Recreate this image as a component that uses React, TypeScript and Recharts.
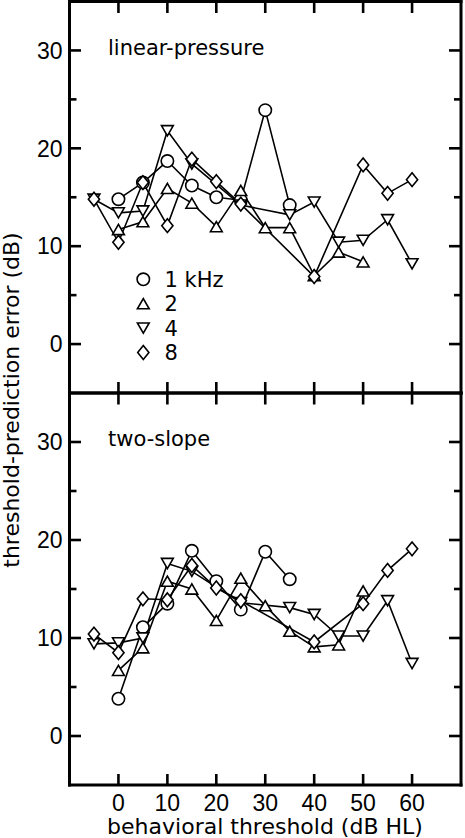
import React from 'react';
import { LineChart, Line, XAxis, YAxis, Legend } from 'recharts';

// ---------- axes ----------
const X_TICKS = [0, 10, 20, 30, 40, 50, 60];
const Y_TICKS = [0, 5, 10, 15, 20, 25, 30];
const X_DOMAIN: [number, number] = [-10, 70];
const Y_DOMAIN: [number, number] = [-5, 35];

// ---------- series names / symbols ----------
const FREQ_NAMES = ['1 kHz', '2', '4', '8'];
const SHAPES = ['circle', 'up', 'down', 'diamond'];

// ---------- linear-pressure panel ----------
const lp1kX = [0, 5, 10, 15, 20, 25, 30, 35];
const lp1kY = [14.8, 16.5, 18.7, 16.2, 15.0, 14.7, 23.9, 14.2];
const lp2kX = [0, 5, 10, 15, 20, 25, 30, 35, 40, 45, 50];
const lp2kY = [11.7, 12.5, 15.9, 14.4, 12.0, 15.7, 11.9, 11.9, 7.0, 9.4, 8.4];
const lp4kX = [-5, 0, 5, 10, 15, 25, 35, 40, 45, 50, 55, 60];
const lp4kY = [14.8, 13.4, 13.6, 21.8, 18.4, 14.2, 13.2, 14.5, 10.4, 10.6, 12.7, 8.2];
const lp8kX = [-5, 0, 5, 10, 15, 20, 25, 40, 50, 55, 60];
const lp8kY = [14.8, 10.4, 16.5, 12.1, 18.9, 16.6, 14.3, 6.9, 18.3, 15.4, 16.8];

// ---------- two-slope panel ----------
const ts1kX = [0, 5, 10, 15, 20, 25, 30, 35];
const ts1kY = [3.8, 11.1, 13.5, 18.9, 15.8, 12.9, 18.8, 16.0];
const ts2kX = [0, 5, 10, 15, 20, 25, 30, 35, 40, 45, 50];
const ts2kY = [6.7, 9.0, 15.8, 15.0, 11.8, 16.1, 13.3, 10.7, 9.1, 9.3, 14.8];
const ts4kX = [-5, 0, 5, 10, 15, 25, 35, 40, 45, 50, 55, 60];
const ts4kY = [9.4, 9.5, 10.0, 17.6, 16.8, 13.6, 13.1, 12.4, 10.2, 10.2, 13.8, 7.4];
const ts8kX = [-5, 0, 5, 10, 15, 20, 25, 40, 50, 55, 60];
const ts8kY = [10.4, 8.5, 14.0, 13.9, 17.4, 15.1, 13.8, 9.6, 13.5, 16.9, 19.1];

const zip = (xs: number[], ys: number[]) => xs.map((x, i) => ({ x, y: ys[i] }));

const LP_SERIES = [zip(lp1kX, lp1kY), zip(lp2kX, lp2kY), zip(lp4kX, lp4kY), zip(lp8kX, lp8kY)];
const TS_SERIES = [zip(ts1kX, ts1kY), zip(ts2kX, ts2kY), zip(ts4kX, ts4kY), zip(ts8kX, ts8kY)];

const NUM_FONT = '"Liberation Sans", Arial, sans-serif';
const TXT_FONT = '"DejaVu Sans", sans-serif';
const AXIS_LINE = { stroke: '#000', strokeWidth: 3, strokeLinecap: 'square' as const };
const TICK_W = 2.6;

function Marker({ shape, cx, cy }: { shape: string; cx: number; cy: number }) {
  const common = { fill: '#fff', stroke: '#000', strokeWidth: 1.6 };
  if (cx == null || cy == null) return null;
  switch (shape) {
    case 'circle':
      return <circle cx={cx} cy={cy} r={6.2} {...common} />;
    case 'up':
      return <path d={`M${cx - 5.9},${cy + 5.1}L${cx + 5.9},${cy + 5.1}L${cx},${cy - 5.1}Z`} {...common} />;
    case 'down':
      return <path d={`M${cx - 5.9},${cy - 5.1}L${cx + 5.9},${cy - 5.1}L${cx},${cy + 5.1}Z`} {...common} />;
    default:
      return <path d={`M${cx},${cy - 6.9}L${cx + 5.6},${cy}L${cx},${cy + 6.9}L${cx - 5.6},${cy}Z`} {...common} />;
  }
}

const LeftTick = (p: any) => {
  const v = p.payload.value;
  const major = v % 10 === 0;
  return (
    <g>
      <line x1={p.x} x2={p.x + (major ? 11.5 : 7)} y1={p.y} y2={p.y} stroke="#000" strokeWidth={TICK_W} />
      {major && (
        <text x={p.x - 7} y={p.y + 8.2} textAnchor="end" fontFamily={NUM_FONT} fontSize={23} fill="#000">
          {v}
        </text>
      )}
    </g>
  );
};

const RightTick = (p: any) => {
  const major = p.payload.value % 10 === 0;
  return <line x1={p.x - (major ? 12 : 7)} x2={p.x} y1={p.y} y2={p.y} stroke="#000" strokeWidth={TICK_W} />;
};

const TopTick = (p: any) => (
  <line x1={p.x} x2={p.x} y1={p.y} y2={p.y + 11.5} stroke="#000" strokeWidth={TICK_W} />
);

const makeBottomTick = (showLabel: boolean) => (p: any) => (
  <g>
    <line x1={p.x} x2={p.x} y1={p.y - 11} y2={p.y} stroke="#000" strokeWidth={TICK_W} />
    {showLabel && (
      <text x={p.x} y={p.y + 26} textAnchor="middle" fontFamily={NUM_FONT} fontSize={23} fill="#000">
        {p.payload.value}
      </text>
    )}
  </g>
);

const LegendContent = () => (
  <svg width={130} height={100} style={{ display: 'block' }}>
    {FREQ_NAMES.map((n, i) => (
      <g key={n}>
        <Marker shape={SHAPES[i]} cx={23.3} cy={14.3 + i * 24.4} />
        <text x={44.5} y={14.3 + i * 24.4 + 7.7} fontFamily={TXT_FONT} fontSize={21} fill="#000" style={{ whiteSpace: 'pre' }}>
          {n}
        </text>
      </g>
    ))}
  </svg>
);

function Panel({
  series,
  prefix,
  height,
  margin,
  showXLabels,
  showLegend,
}: {
  series: { x: number; y: number }[][];
  prefix: string;
  height: number;
  margin: { top: number; right: number; bottom: number; left: number };
  showXLabels: boolean;
  showLegend: boolean;
}) {
  return (
    <LineChart width={465} height={height} margin={margin}>
      <XAxis
        xAxisId="b"
        dataKey="x"
        type="number"
        domain={X_DOMAIN}
        ticks={X_TICKS}
        interval={0}
        height={1}
        tickSize={0}
        tickMargin={0}
        tickLine={false}
        axisLine={AXIS_LINE}
        tick={makeBottomTick(showXLabels)}
        allowDataOverflow
      />
      <XAxis
        xAxisId="t"
        orientation="top"
        dataKey="x"
        type="number"
        domain={X_DOMAIN}
        ticks={X_TICKS}
        interval={0}
        height={1}
        tickSize={0}
        tickMargin={0}
        tickLine={false}
        axisLine={AXIS_LINE}
        tick={TopTick}
        allowDataOverflow
      />
      <YAxis
        yAxisId="l"
        type="number"
        domain={Y_DOMAIN}
        ticks={Y_TICKS}
        interval={0}
        width={69.5}
        tickSize={0}
        tickMargin={0}
        tickLine={false}
        axisLine={AXIS_LINE}
        tick={LeftTick}
        allowDataOverflow
      />
      <YAxis
        yAxisId="r"
        orientation="right"
        type="number"
        domain={Y_DOMAIN}
        ticks={Y_TICKS}
        interval={0}
        width={1}
        tickSize={0}
        tickMargin={0}
        tickLine={false}
        axisLine={AXIS_LINE}
        tick={RightTick}
        allowDataOverflow
      />
      {series.map((d, i) => (
        <Line
          key={`${prefix}-line-${i}`}
          xAxisId="b"
          yAxisId="l"
          data={d}
          dataKey="y"
          name={FREQ_NAMES[i]}
          stroke="#000"
          strokeWidth={1.6}
          dot={false}
          activeDot={false}
          isAnimationActive={false}
          legendType="none"
        />
      ))}
      {series.map((d, i) => (
        <Line
          key={`${prefix}-dots-${i}`}
          xAxisId="b"
          yAxisId="l"
          data={d}
          dataKey="y"
          name={FREQ_NAMES[i]}
          stroke="none"
          strokeWidth={0}
          dot={(p: any) => <Marker key={`${prefix}-${i}-${p.index}`} shape={SHAPES[i]} cx={p.cx} cy={p.cy} />}
          activeDot={false}
          isAnimationActive={false}
        />
      ))}
      {showLegend && (
        <Legend
          layout="vertical"
          align="center"
          verticalAlign="middle"
          wrapperStyle={{ left: 120, top: 265, width: 130, height: 100 }}
          content={LegendContent}
        />
      )}
    </LineChart>
  );
}

export default function App() {
  return (
    <div style={{ position: 'absolute', left: 0, top: 0, width: 465, height: 838, background: '#fff', overflow: 'hidden' }}>
      <div style={{ position: 'absolute', left: 0, top: 0 }}>
        <Panel
          series={LP_SERIES}
          prefix="lp"
          height={400}
          margin={{ top: 0.5, right: 3, bottom: 6, left: 0 }}
          showXLabels={false}
          showLegend={true}
        />
      </div>
      <div style={{ position: 'absolute', left: 0, top: 380 }}>
        <Panel
          series={TS_SERIES}
          prefix="ts"
          height={458}
          margin={{ top: 12, right: 3, bottom: 52, left: 0 }}
          showXLabels={true}
          showLegend={false}
        />
      </div>
      <svg width={465} height={838} style={{ position: 'absolute', left: 0, top: 0, pointerEvents: 'none' }}>
        <text x={108} y={54.5} fontFamily={TXT_FONT} fontSize={21} fill="#000">linear-pressure</text>
        <text x={108} y={446} fontFamily={TXT_FONT} fontSize={21} fill="#000">two-slope</text>
        <text x={265} y={834} textAnchor="middle" fontFamily={TXT_FONT} fontSize={22} fill="#000">
          behavioral threshold (dB HL)
        </text>
        <text
          transform="rotate(-90)"
          x={-400}
          y={18.5}
          textAnchor="middle"
          fontFamily={TXT_FONT}
          fontSize={22}
          fill="#000"
        >
          threshold-prediction error (dB)
        </text>
      </svg>
    </div>
  );
}
